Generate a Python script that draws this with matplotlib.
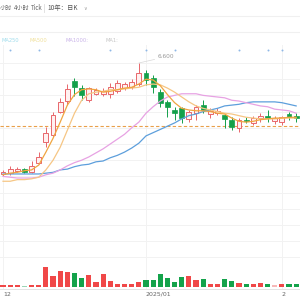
import numpy as np
import matplotlib.pyplot as plt
from matplotlib.transforms import blended_transform_factory

plt.rcParams['font.family'] = ['Noto Sans CJK SC', 'DejaVu Sans']

# daily candles
opens = [5.23, 5.24, 5.27, 5.29, 5.25, 5.37, 5.63, 5.71, 6.00, 6.13,
         6.38, 6.29, 6.14, 6.22, 6.22, 6.22, 6.25, 6.29, 6.30, 6.34,
         6.48, 6.42, 6.24, 6.12, 6.02, 6.04, 5.91, 5.98, 6.08, 5.97,
         5.98, 5.96, 5.90, 5.80, 5.90, 5.86, 5.92, 5.95, 5.88, 5.87,
         5.97, 5.95]
highs = [5.28, 5.33, 5.31, 5.30, 5.39, 5.50, 5.81, 6.00, 6.17, 6.34,
         6.42, 6.33, 6.30, 6.29, 6.29, 6.35, 6.39, 6.37, 6.40, 6.60,
         6.51, 6.45, 6.28, 6.14, 6.06, 6.06, 6.02, 6.08, 6.14, 6.04,
         6.04, 5.97, 5.93, 5.92, 5.93, 5.95, 5.98, 6.02, 5.95, 5.95,
         6.00, 5.98]
lows = [5.21, 5.22, 5.25, 5.24, 5.24, 5.35, 5.56, 5.69, 5.98, 6.08,
        6.19, 6.14, 6.12, 6.21, 6.19, 6.17, 6.23, 6.27, 6.28, 6.32,
        6.33, 6.23, 6.06, 5.93, 5.90, 5.86, 5.87, 5.90, 5.98, 5.92,
        5.96, 5.80, 5.77, 5.75, 5.86, 5.84, 5.87, 5.87, 5.85, 5.84,
        5.90, 5.87]
closes = [5.25, 5.29, 5.29, 5.25, 5.33, 5.44, 5.74, 5.96, 6.12, 6.28,
          6.30, 6.21, 6.29, 6.27, 6.25, 6.30, 6.35, 6.34, 6.37, 6.48,
          6.39, 6.30, 6.11, 6.06, 5.98, 5.92, 6.00, 6.06, 6.02, 6.01,
          6.01, 5.91, 5.81, 5.90, 5.89, 5.92, 5.95, 5.92, 5.92, 5.93,
          5.93, 5.92]
volumes = [12, 10, 11, 9, 16, 17, 190, 100, 150, 140,
           130, 80, 110, 40, 120, 50, 20, 22, 21, 40,
           60, 62, 120, 80, 42, 90, 100, 60, 70, 22,
           28, 70, 50, 30, 20, 22, 30, 20, 10, 22,
           20, 22]

# moving averages as drawn
ma_fast = [5.22, 5.24, 5.25, 5.27, 5.28, 5.34, 5.50, 5.67, 5.87, 6.08,
           6.21, 6.27, 6.28, 6.27, 6.24, 6.25, 6.27, 6.29, 6.30, 6.34,
           6.40, 6.39, 6.32, 6.21, 6.11, 6.04, 6.02, 6.01, 6.01, 6.00,
           5.98, 5.97, 5.92, 5.88, 5.87, 5.88, 5.90, 5.91, 5.92, 5.92,
           5.93, 5.93]
ma_mid = [5.14, 5.14, 5.16, 5.16, 5.17, 5.19, 5.28, 5.40, 5.56, 5.77,
          5.98, 6.14, 6.22, 6.24, 6.25, 6.27, 6.27, 6.28, 6.29, 6.30,
          6.33, 6.34, 6.33, 6.29, 6.24, 6.18, 6.12, 6.07, 6.04, 6.02,
          6.00, 5.98, 5.97, 5.95, 5.93, 5.92, 5.91, 5.91, 5.91, 5.92,
          5.92, 5.92]
ma_pink = [5.20, 5.19, 5.18, 5.18, 5.18, 5.19, 5.22, 5.24, 5.28, 5.33,
           5.37, 5.40, 5.44, 5.49, 5.54, 5.60, 5.66, 5.72, 5.80, 5.87,
           5.98, 6.06, 6.13, 6.18, 6.20, 6.22, 6.22, 6.22, 6.20, 6.19,
           6.18, 6.17, 6.14, 6.13, 6.11, 6.09, 6.07, 6.06, 6.03, 6.02,
           6.01, 5.98]
ma_blue = [5.23, 5.23, 5.23, 5.23, 5.23, 5.23, 5.24, 5.25, 5.28, 5.29,
           5.32, 5.34, 5.35, 5.38, 5.39, 5.43, 5.46, 5.50, 5.55, 5.61,
           5.70, 5.74, 5.78, 5.82, 5.86, 5.91, 5.95, 5.97, 6.00, 6.02,
           6.04, 6.07, 6.08, 6.09, 6.11, 6.12, 6.12, 6.12, 6.12, 6.11,
           6.09, 6.07]

month_pos = [0, 20, 39]
month_labels = ['12', '2025/01', '2']
last_price = 5.82
high_idx = 19
high_label = '6.600'
event_idx = [1, 5, 15, 20, 24, 33, 37, 39]
faded_vol = [3, 38]

tabs = ['小时', '4小时', 'Tick']
tab_x = [0, 14, 31]
period = '10年：日K'
ma_names = ['MA250', 'MA500', 'MA1000:', 'MA1:']
ma_name_x = [1, 30, 66, 106]
ma_name_colors = ['#9fdcec', '#f0e09a', '#c8b2e8', '#c4c4c4']

UP = '#e8676b'
DOWN = '#13a04a'


def fy(px):
    return 1 - px / 300.0


fig = plt.figure(figsize=(3, 3), dpi=100)
fig.patch.set_facecolor('white')

# toolbar
for t, x in zip(tabs, tab_x):
    fig.text(x / 300.0, fy(8), t, fontsize=4.4, color='#666666', va='center', ha='left')
fig.add_artist(plt.Line2D([44 / 300.0] * 2, [fy(4), fy(12)], color='#dddddd', lw=0.6))
fig.text(47 / 300.0, fy(8), period, fontsize=4.6, color='#555555', va='center', ha='left')
fig.text(83 / 300.0, fy(8), '∨', fontsize=3.5, color='#999999', va='center', ha='left',
         family='DejaVu Sans')
for yy in [16, 32]:
    fig.add_artist(plt.Line2D([0, 1], [fy(yy), fy(yy)], color='#f0f0f0', lw=0.8))

for name, x, c in zip(ma_names, ma_name_x, ma_name_colors):
    fig.text(x / 300.0, fy(40.5), name, fontsize=3.7, color=c, va='center', ha='left',
             family='DejaVu Sans')

# price panel
ax = fig.add_axes([0, fy(289), 1, (289 - 45) / 300.0])
idx = np.arange(len(opens))
o = np.array(opens)
c = np.array(closes)
up = c >= o

ax.vlines(idx, lows, highs, colors=np.where(up, UP, DOWN), lw=0.7, zorder=2)
body_lo = np.minimum(o, c)
body_h = np.maximum(np.abs(c - o), 0.01)
ax.bar(idx[up], body_h[up], bottom=body_lo[up], width=0.68,
       color='#fff1f1', edgecolor=UP, lw=0.7, zorder=3)
ax.bar(idx[~up], body_h[~up], bottom=body_lo[~up], width=0.68,
       color=DOWN, edgecolor=DOWN, lw=0.5, zorder=3)

ax.plot(idx, ma_blue, color='#5d9fdc', lw=0.9, zorder=4)
ax.plot(idx, ma_pink, color='#e7a2e3', lw=0.9, zorder=4)
ax.plot(idx, ma_mid, color='#f6c684', lw=0.9, zorder=4)
ax.plot(idx, ma_fast, color='#f0a540', lw=0.9, zorder=4)

ax.axhline(last_price, color='#e9a04a', lw=0.8, ls=(0, (3, 2)), zorder=1)

ax.annotate(high_label, xy=(high_idx, highs[high_idx]), xytext=(21.6, 6.675),
            fontsize=4.2, color='#999999', va='center', ha='left', family='DejaVu Sans',
            arrowprops=dict(arrowstyle='-', color='#d8d8d8', lw=0.5, shrinkA=0, shrinkB=0))

trans = blended_transform_factory(ax.transData, ax.transAxes)
ax.scatter(event_idx, [0.981] * len(event_idx), s=2, color='#8fb8e6', transform=trans,
           clip_on=False, zorder=5, lw=0)

ax.set_xlim(-0.42, 41.54)
ax.set_ylim(3.81, 6.822)
ax.set_yticks(np.arange(4.2, 6.61, 0.2))
ax.set_xticks(month_pos)
ax.grid(True, color='#f2f2f2', lw=0.7)
ax.set_axisbelow(True)
ax.tick_params(axis='y', left=False, labelleft=False)
ax.tick_params(axis='x', length=0, pad=2, labelsize=4.5, labelcolor='#666666')
ax.set_xticklabels(month_labels, ha='left', family='DejaVu Sans')
for s in ['top', 'left', 'right']:
    ax.spines[s].set_visible(False)
ax.spines['bottom'].set_color('#e4e4e4')
ax.spines['bottom'].set_linewidth(0.7)

# volume panel
axv = fig.add_axes([0, fy(286.5), 1, 24.5 / 300.0], sharex=ax)
axv.patch.set_alpha(0)
vol_colors = []
for i in idx:
    if i in faded_vol:
        vol_colors.append('#f6b9b9' if up[i] else '#9bd6b6')
    else:
        vol_colors.append('#f04848' if up[i] else '#14a34b')
axv.bar(idx, volumes, width=0.72, color=vol_colors, lw=0)
axv.set_ylim(0, max(volumes) * 24.5 / 19.5)
axv.axis('off')

fig.savefig('out.png', dpi=100)
